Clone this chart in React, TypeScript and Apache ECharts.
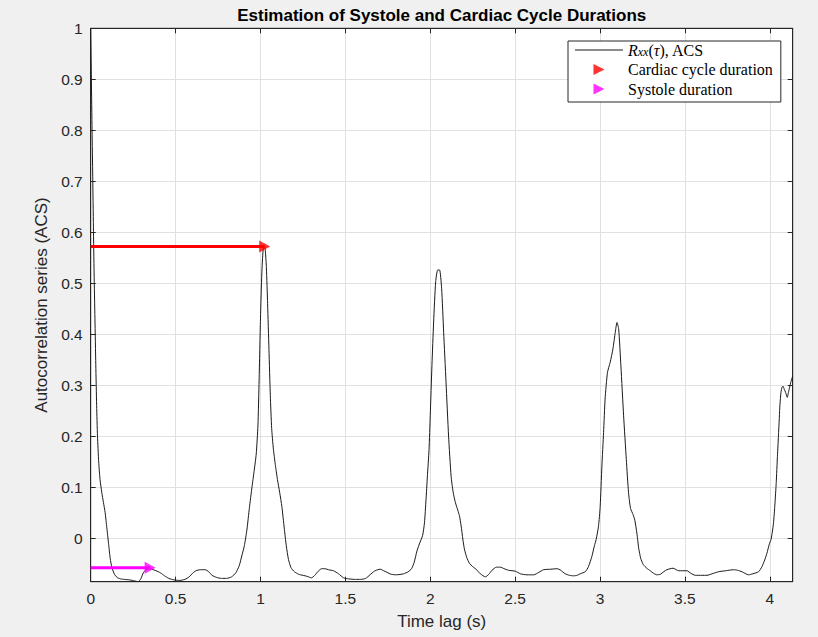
import React, { useEffect, useRef } from 'react';
import * as echarts from 'echarts';

// Time lag (s) and autocorrelation series values
const lagTimes = [
  0, 0.004, 0.008, 0.012, 0.016, 0.02, 0.025, 0.03, 0.035, 0.04, 0.047, 0.055, 0.065, 0.075, 0.085, 0.095,
  0.105, 0.115, 0.125, 0.14, 0.155, 0.175, 0.2, 0.23, 0.26, 0.28, 0.295, 0.31, 0.325, 0.34, 0.36, 0.385,
  0.41, 0.435, 0.46, 0.49, 0.525, 0.555, 0.58, 0.6, 0.62, 0.645, 0.675, 0.695, 0.715, 0.74, 0.77, 0.8,
  0.83, 0.855, 0.875, 0.89, 0.905, 0.92, 0.935, 0.95, 0.962, 0.975, 0.985, 0.992, 1.0, 1.008, 1.015, 1.022,
  1.028, 1.035, 1.042, 1.05, 1.058, 1.066, 1.076, 1.087, 1.1, 1.113, 1.126, 1.14, 1.152, 1.165, 1.18, 1.2,
  1.225, 1.25, 1.275, 1.3, 1.32, 1.34, 1.36, 1.38, 1.4, 1.43, 1.46, 1.49, 1.52, 1.56, 1.59, 1.62,
  1.645, 1.67, 1.69, 1.706, 1.725, 1.745, 1.77, 1.8, 1.843, 1.87, 1.89, 1.905, 1.922, 1.94, 1.955, 1.966,
  1.975, 1.983, 1.993, 2.0, 2.01, 2.02, 2.032, 2.044, 2.055, 2.067, 2.079, 2.093, 2.108, 2.123, 2.135, 2.148,
  2.162, 2.172, 2.182, 2.192, 2.201, 2.215, 2.23, 2.25, 2.27, 2.295, 2.325, 2.345, 2.364, 2.39, 2.413, 2.435,
  2.46, 2.502, 2.531, 2.57, 2.61, 2.64, 2.668, 2.71, 2.747, 2.766, 2.795, 2.82, 2.844, 2.865, 2.883, 2.913,
  2.932, 2.952, 2.967, 2.977, 2.991, 3.001, 3.011, 3.021, 3.03, 3.044, 3.06, 3.076, 3.09, 3.1, 3.11, 3.123,
  3.139, 3.155, 3.168, 3.18, 3.195, 3.205, 3.217, 3.228, 3.24, 3.255, 3.275, 3.296, 3.315, 3.335, 3.355, 3.375,
  3.394, 3.43, 3.463, 3.512, 3.535, 3.561, 3.6, 3.63, 3.66, 3.698, 3.74, 3.787, 3.81, 3.836, 3.875, 3.9,
  3.934, 3.954, 3.97, 3.983, 3.997, 4.007, 4.015, 4.022, 4.03, 4.038, 4.045, 4.052, 4.06, 4.066, 4.072, 4.078,
  4.085, 4.093, 4.103, 4.11, 4.117, 4.125, 4.135,
];
const acsValues = [
  1.0, 0.9, 0.8, 0.71, 0.61, 0.52, 0.43, 0.34, 0.26, 0.2, 0.15, 0.115, 0.09, 0.07, 0.05, 0.02,
  -0.01, -0.04, -0.058, -0.071, -0.077, -0.08, -0.081, -0.082, -0.084, -0.0855, -0.08, -0.068, -0.062, -0.06, -0.061, -0.064,
  -0.068, -0.074, -0.079, -0.082, -0.083, -0.081, -0.076, -0.069, -0.064, -0.062, -0.062, -0.066, -0.073, -0.077, -0.079, -0.079,
  -0.076, -0.068, -0.054, -0.035, -0.015, 0.016, 0.06, 0.1, 0.13, 0.165, 0.22, 0.31, 0.43, 0.52, 0.563, 0.572,
  0.566, 0.53, 0.46, 0.37, 0.28, 0.215, 0.175, 0.145, 0.115, 0.09, 0.062, 0.02, -0.015, -0.042, -0.058, -0.066,
  -0.071, -0.073, -0.075, -0.078, -0.073, -0.065, -0.06, -0.06, -0.062, -0.064, -0.07, -0.078, -0.08, -0.081, -0.081, -0.079,
  -0.072, -0.065, -0.062, -0.061, -0.064, -0.067, -0.071, -0.072, -0.07, -0.066, -0.06, -0.048, -0.025, -0.008, 0.005, 0.03,
  0.075, 0.12, 0.174, 0.24, 0.339, 0.424, 0.503, 0.526, 0.526, 0.49, 0.404, 0.306, 0.2, 0.121, 0.09, 0.07,
  0.055, 0.044, 0.024, -0.002, -0.021, -0.038, -0.049, -0.056, -0.061, -0.07, -0.076, -0.071, -0.063, -0.057, -0.057, -0.06,
  -0.063, -0.065, -0.07, -0.072, -0.072, -0.067, -0.062, -0.061, -0.06, -0.0625, -0.07, -0.073, -0.074, -0.073, -0.07, -0.066,
  -0.056, -0.036, -0.015, -0.003, 0.023, 0.062, 0.141, 0.207, 0.273, 0.325, 0.345, 0.371, 0.404, 0.423, 0.41, 0.338,
  0.24, 0.154, 0.089, 0.058, 0.046, 0.035, 0.01, -0.02, -0.04, -0.052, -0.059, -0.064, -0.069, -0.072, -0.071, -0.066,
  -0.062, -0.059, -0.064, -0.064, -0.069, -0.073, -0.073, -0.073, -0.07, -0.066, -0.064, -0.062, -0.063, -0.066, -0.072, -0.07,
  -0.066, -0.056, -0.043, -0.03, -0.012, -0.003, 0.012, 0.03, 0.065, 0.109, 0.16, 0.207, 0.262, 0.286, 0.296, 0.298,
  0.292, 0.286, 0.276, 0.286, 0.296, 0.307, 0.318,
];

// Arrows: from lag 0 to the estimated duration, at the detected level
const cardiacArrowX = [0, 1.025];
const cardiacArrowY = [0.572, 0.572];
const systoleArrowX = [0, 0.35];
const systoleArrowY = [-0.058, -0.058];

const xRange = [0, 4.135];
const yRange = [-0.0855, 1];

const titleText = 'Estimation of Systole and Cardiac Cycle Durations';
const xName = 'Time lag (s)';
const yName = 'Autocorrelation series (ACS)';

export default function App() {
  const ref = useRef<HTMLDivElement>(null);
  useEffect(() => {
    const chart = echarts.init(ref.current!, null, { renderer: 'svg' });
    const axisColor = '#262626';
    const gridColor = '#e0e0e0';
    const sans = '"Liberation Sans", Arial, Helvetica, sans-serif';
    const serif = '"Liberation Serif", "Times New Roman", serif';
    const tri = 'path://M0,0L10,5L0,10Z';
    const lineIcon = 'path://M0,0L48,0L48,1L0,1Z';
    const fmtY = (v: number) => {
      const r = Math.round(v * 10) / 10;
      return Math.abs(v - r) < 1e-6 ? String(r) : '';
    };
    const fmtX = (v: number) => {
      const r = Math.round(v * 2) / 2;
      return Math.abs(v - r) < 1e-6 ? String(r) : '';
    };
    const pair = (xs: number[], ys: number[]) => xs.map((x, i) => [x, ys[i]]);

    const baseX = {
      type: 'value' as const,
      min: xRange[0],
      max: xRange[1],
      interval: 0.5,
    };
    const baseY = {
      type: 'value' as const,
      min: yRange[0],
      max: yRange[1],
      splitNumber: 10,
    };
    const axisLine = { show: true, onZero: false, lineStyle: { color: axisColor, width: 1 } };
    const axisTick = { show: true, inside: true, length: 5, lineStyle: { color: axisColor } };

    chart.setOption({
      animation: false,
      backgroundColor: '#f0f0f0',
      graphic: [
        {
          type: 'text',
          x: 441.7,
          y: 15,
          style: {
            text: titleText,
            fontFamily: sans,
            fontSize: 17,
            fontWeight: 'bold',
            fill: '#000',
            align: 'center',
            verticalAlign: 'middle',
          },
        },
      ],
      grid: {
        left: 90.7,
        top: 28.3,
        right: 25.3,
        bottom: 55.3,
        show: true,
        backgroundColor: '#ffffff',
        borderColor: axisColor,
        borderWidth: 1,
        containLabel: false,
        outerBoundsMode: 'none',
      },
      legend: {
        data: [
          { name: 'acs', icon: lineIcon },
          { name: 'Cardiac cycle duration', icon: tri },
          { name: 'Systole duration', icon: tri },
        ],
        orient: 'vertical',
        left: 568,
        top: 41,
        itemWidth: 48,
        itemHeight: 11,
        itemGap: 3.5,
        padding: [0, 8, 5, 7],
        backgroundColor: '#ffffff',
        borderColor: axisColor,
        borderWidth: 1,
        borderRadius: 0,
        selectedMode: false,
        formatter: (name: string) =>
          name === 'acs' ? '{it|R}{sub|xx}{n|(}{it|τ}{n|), ACS}' : name,
        textStyle: {
          fontFamily: serif,
          fontSize: 16,
          lineHeight: 16,
          color: '#000',
          rich: {
            it: { fontFamily: serif, fontSize: 16, fontStyle: 'italic', color: '#000', lineHeight: 16 },
            sub: { fontFamily: serif, fontSize: 12, fontStyle: 'italic', color: '#000', verticalAlign: 'bottom', lineHeight: 16, padding: [5, 0, 0, 0] },
            n: { fontFamily: serif, fontSize: 16, color: '#000', lineHeight: 16 },
          },
        },
      },
      xAxis: [
        {
          ...baseX,
          position: 'bottom',
          name: xName,
          nameLocation: 'middle',
          nameGap: 31,
          nameTextStyle: { fontFamily: sans, fontSize: 17, color: axisColor },
          axisLine,
          axisTick,
          axisLabel: {
            show: true,
            margin: 9,
            fontFamily: sans,
            fontSize: 15.5,
            color: axisColor,
            formatter: fmtX,
            showMaxLabel: false,
            hideOverlap: false,
          },
          splitLine: { show: true, lineStyle: { color: gridColor, width: 1 } },
        },
        {
          ...baseX,
          position: 'top',
          axisLine,
          axisTick,
          axisLabel: { show: false },
          splitLine: { show: false },
        },
      ],
      yAxis: [
        {
          ...baseY,
          position: 'left',
          name: yName,
          nameLocation: 'middle',
          nameGap: 29,
          nameRotate: 90,
          nameTextStyle: { fontFamily: sans, fontSize: 17, color: axisColor },
          axisLine,
          axisTick,
          axisLabel: {
            show: true,
            margin: 8,
            fontFamily: sans,
            fontSize: 15.5,
            color: axisColor,
            formatter: fmtY,
            showMinLabel: false,
            hideOverlap: false,
          },
          splitLine: { show: true, lineStyle: { color: gridColor, width: 1 } },
        },
        {
          ...baseY,
          position: 'right',
          axisLine,
          axisTick,
          axisLabel: { show: false },
          splitLine: { show: false },
        },
      ],
      series: [
        {
          name: 'acs',
          type: 'line',
          xAxisIndex: 0,
          yAxisIndex: 0,
          data: pair(lagTimes, acsValues),
          symbol: 'none',
          showSymbol: false,
          smooth: 0.2,
          lineStyle: { color: '#1a1a1a', width: 1 },
          itemStyle: { color: '#1a1a1a' },
          silent: true,
          z: 2,
        },
        {
          name: 'cardiacLine',
          type: 'line',
          data: pair(cardiacArrowX, cardiacArrowY),
          symbol: 'none',
          lineStyle: { color: '#ff0000', width: 3 },
          silent: true,
          z: 3,
        },
        {
          name: 'systoleLine',
          type: 'line',
          data: pair(systoleArrowX, systoleArrowY),
          symbol: 'none',
          lineStyle: { color: '#ff00ff', width: 3 },
          silent: true,
          z: 3,
        },
        {
          name: 'Cardiac cycle duration',
          type: 'scatter',
          data: [[cardiacArrowX[1], cardiacArrowY[1]]],
          symbol: tri,
          symbolSize: [11, 12],
          itemStyle: { color: '#ff0000' },
          silent: true,
          z: 4,
        },
        {
          name: 'Systole duration',
          type: 'scatter',
          data: [[systoleArrowX[1], systoleArrowY[1]]],
          symbol: tri,
          symbolSize: [11, 12],
          itemStyle: { color: '#ff00ff' },
          silent: true,
          z: 4,
        },
      ],
    });
    return () => chart.dispose();
  }, []);
  return (
    <div
      ref={ref}
      style={{ position: 'absolute', left: 0, top: 0, width: 818, height: 637 }}
    />
  );
}
